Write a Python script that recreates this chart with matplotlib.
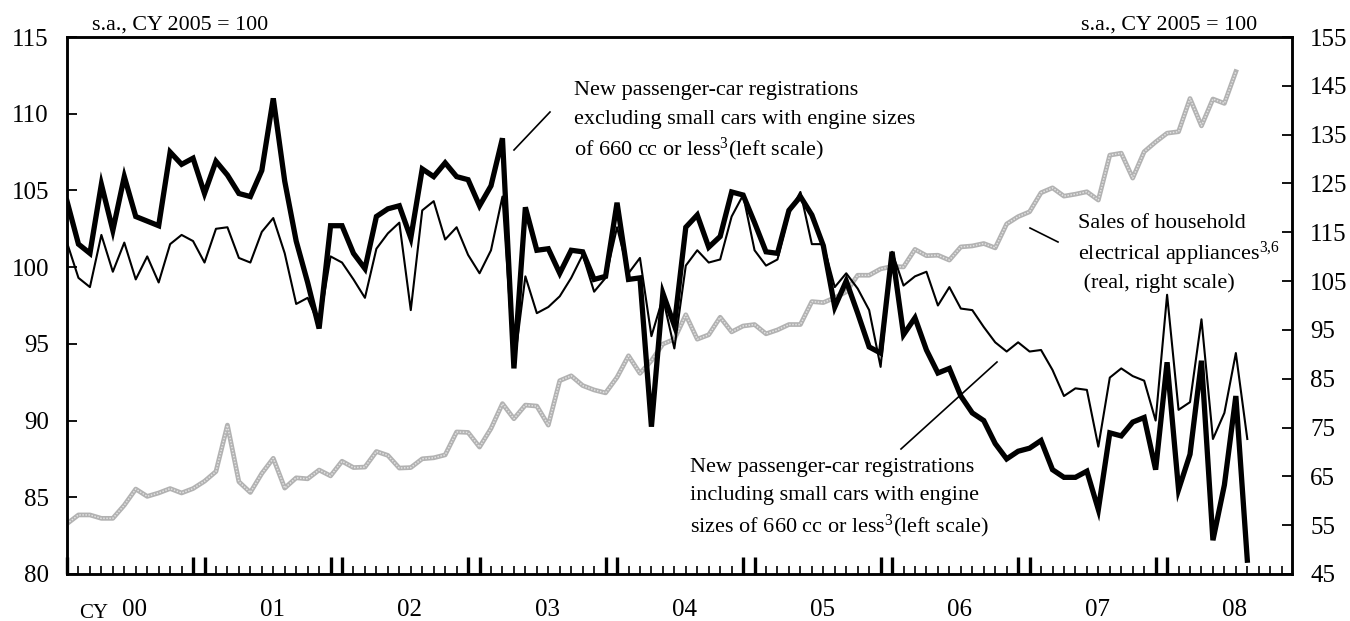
import matplotlib
matplotlib.use("Agg")
import matplotlib.pyplot as plt
import matplotlib.transforms as mtransforms

plt.rcParams["font.family"] = ["Liberation Serif", "DejaVu Serif"]
plt.rcParams["mathtext.fontset"] = "custom"
plt.rcParams["mathtext.rm"] = "Liberation Serif"
plt.rcParams["mathtext.it"] = "Liberation Serif"

W, H = 1350, 621

# monthly data, Jan 2000 onward (index 0 = Jan 2000)
cars_incl_small = [
    104.3, 101.5, 100.9, 105.4, 102.4, 105.9, 103.3, 103.0, 102.7, 107.5, 106.7, 107.1,
    104.8, 106.9, 106.0, 104.8, 104.6, 106.3, 111.0, 105.6, 101.7, 99.0, 96.0, 102.7,
    102.7, 100.9, 99.9, 103.3, 103.8, 104.0, 101.9, 106.4, 105.9, 106.8, 105.9, 105.7,
    104.0, 105.3, 108.4, 93.4, 103.9, 101.1, 101.2, 99.6, 101.1, 101.0, 99.2, 99.4,
    104.2, 99.2, 99.3, 89.6, 98.3, 96.2, 102.6, 103.4, 101.3, 102.0, 104.9, 104.7,
    102.9, 101.0, 100.9, 103.7, 104.6, 103.4, 101.4, 97.4, 99.1, 97.0, 94.8, 94.4,
    101.0, 95.6, 96.7, 94.6, 93.1, 93.4, 91.6, 90.5, 90.0, 88.5, 87.5, 88.0,
    88.2, 88.7, 86.8, 86.3, 86.3, 86.7, 84.2, 89.2, 89.0, 89.9, 90.2, 86.8,
    93.8, 85.5, 87.8, 93.9, 82.2, 85.8, 91.6, 80.9,
]
cars_excl_small = [
    101.6, 99.3, 98.7, 102.1, 99.7, 101.6, 99.2, 100.7, 99.0, 101.5, 102.1, 101.7,
    100.3, 102.5, 102.6, 100.6, 100.3, 102.3, 103.2, 100.9, 97.6, 98.0, 96.2, 100.7,
    100.3, 99.2, 98.0, 101.2, 102.2, 102.9, 97.2, 103.7, 104.3, 101.8, 102.6, 100.8,
    99.6, 101.1, 104.6, 93.5, 99.4, 97.0, 97.4, 98.1, 99.3, 100.8, 98.4, 99.3,
    102.6, 99.6, 100.6, 95.5, 98.0, 94.7, 100.1, 101.1, 100.3, 100.5, 103.3, 104.7,
    101.1, 100.1, 100.5, 103.5, 104.9, 101.5, 101.5, 98.7, 99.6, 98.6, 97.2, 93.5,
    101.0, 98.8, 99.4, 99.7, 97.5, 98.7, 97.3, 97.2, 96.1, 95.1, 94.5, 95.1,
    94.5, 94.6, 93.3, 91.6, 92.1, 92.0, 88.3, 92.8, 93.4, 92.9, 92.6, 90.0,
    98.2, 90.7, 91.2, 96.6, 88.8, 90.5, 94.4, 88.8,
]
appliance_sales = [
    55.3, 57.1, 57.1, 56.4, 56.4, 59.1, 62.4, 60.9, 61.6, 62.5, 61.6, 62.5,
    64.0, 66.0, 75.5, 63.9, 61.7, 65.6, 68.7, 62.6, 64.7, 64.5, 66.3, 65.1,
    68.1, 66.8, 66.9, 70.1, 69.3, 66.7, 66.8, 68.6, 68.8, 69.4, 74.1, 74.0,
    71.0, 74.8, 79.9, 76.8, 79.6, 79.4, 75.5, 84.6, 85.6, 83.6, 82.7, 82.1,
    85.3, 89.7, 86.1, 88.7, 92.1, 93.1, 98.1, 93.1, 94.0, 97.6, 94.6, 95.8,
    96.1, 94.2, 95.0, 96.1, 96.1, 100.8, 100.6, 101.6, 102.8, 106.2, 106.2, 107.5,
    108.0, 107.9, 111.5, 110.2, 110.3, 109.3, 112.0, 112.2, 112.7, 111.8, 116.7, 118.2,
    119.2, 123.1, 124.1, 122.4, 122.8, 123.3, 121.6, 130.8, 131.2, 126.1, 131.5, 133.5,
    135.3, 135.6, 142.4, 136.8, 142.3, 141.4, 147.9,
]
year_labels = ["00", "01", "02", "03", "04", "05", "06", "07", "08"]
left_ticks = [80, 85, 90, 95, 100, 105, 110, 115]
right_ticks = [45, 55, 65, 75, 85, 95, 105, 115, 125, 135, 145, 155]


def px(x, y):
    """pixel position (from top-left) -> figure fraction"""
    return x / W, 1 - y / H


fig = plt.figure(figsize=(W / 100, H / 100), dpi=100)
ax = fig.add_axes([67 / W, 47 / H, (1292 - 67) / W, (574 - 37) / H])
ax2 = ax.twinx()

months = list(range(len(cars_incl_small)))
ax.plot(months, cars_excl_small, color="black", linewidth=1.5, zorder=3)
ax.plot(months, cars_incl_small, color="black", linewidth=3.8, zorder=4,
        solid_joinstyle="miter")
gm = list(range(len(appliance_sales)))
ax2.plot(gm, appliance_sales, color="#b2b2b2", linewidth=3.4, zorder=2)
ax2.plot(gm, appliance_sales, color="#e2e2e2", linewidth=1.1, zorder=2,
         linestyle=(0, (1, 1)))
ax.set_zorder(ax2.get_zorder() + 1)
ax.patch.set_visible(False)

ax.set_xlim(0, 106.9)
ax.set_ylim(80, 115)
ax2.set_ylim(45, 155)
ax.set_yticks(left_ticks)
ax2.set_yticks(right_ticks)

for a in (ax, ax2):
    for sp in a.spines.values():
        sp.set_linewidth(1.8)
ax.tick_params(axis="y", direction="in", length=7, width=1.3, labelsize=18, pad=13)
ax2.tick_params(axis="y", direction="in", length=7, width=1.3, labelsize=18, pad=13)

# month ticks: small every month, tall thick pair at each year end
n_years = len(year_labels)
major = [0] + [v for k in range(1, n_years) for v in (12 * k - 1, 12 * k)]
ax.set_xticks(major)
ax.set_xticks(range(0, 107), minor=True)
ax.tick_params(axis="x", which="major", direction="in", length=12, width=2.4,
               labelbottom=False)
ax.tick_params(axis="x", which="minor", direction="in", length=6, width=1.2)

trans = mtransforms.blended_transform_factory(ax.transData, fig.transFigure)
for k, lab in enumerate(year_labels):
    ax.text(12 * k + 5.9, 1 - 610 / H, lab, transform=trans, ha="center",
            va="center", fontsize=18)
fig.text(*px(79, 613), "CY", ha="left", va="center", fontsize=15)

fig.text(*px(92, 25), "s.a., CY 2005 = 100", ha="left", va="center", fontsize=15.8)
fig.text(*px(1257, 25), "s.a., CY 2005 = 100", ha="right", va="center", fontsize=15.8)

annotations = [
    (574, [95, 124, 155], ["New passenger-car registrations",
                           "excluding small cars with engine sizes",
                           "of 660 cc or less$^{\\mathrm{3}}$(left scale)"]),
    (1078, [228, 260, 288], ["Sales of household",
                             "electrical appliances$^{\\mathrm{3{,}6}}$",
                             " (real, right scale)"]),
    (690, [472, 500, 532], ["New passenger-car registrations",
                            "including small cars with engine",
                            "sizes of 660 cc or less$^{\\mathrm{3}}$(left scale)"]),
]
for x0, ys, lines in annotations:
    for yb, line in zip(ys, lines):
        fig.text(*px(x0, yb), line, ha="left", va="baseline", fontsize=16)

for (x0, y0), (x1, y1) in [((514, 150), (550, 112)),
                           ((1030, 228), (1058, 242)),
                           ((901, 449), (997, 362))]:
    fig.add_artist(plt.Line2D([x0 / W, x1 / W], [1 - y0 / H, 1 - y1 / H],
                              color="black", linewidth=1.2,
                              transform=fig.transFigure))

fig.savefig("out.png", dpi=100)
